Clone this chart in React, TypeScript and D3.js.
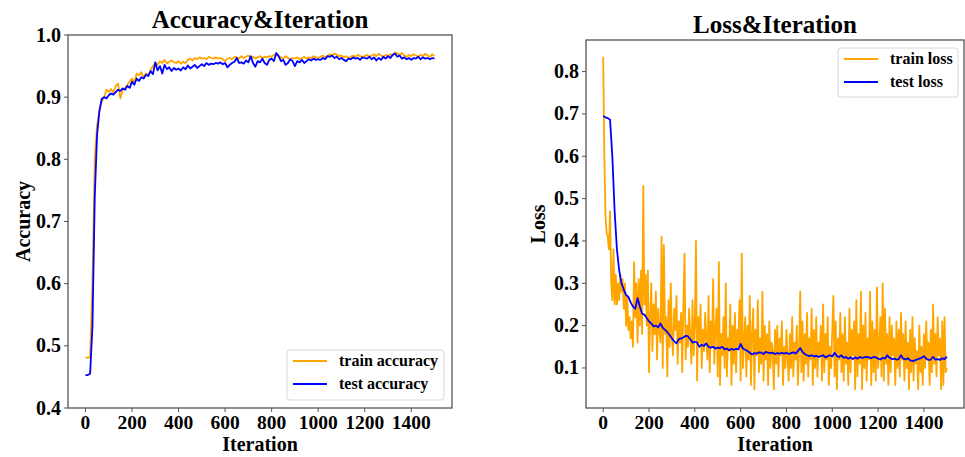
import React from "react";
import * as d3 from "d3";

const accStep = 10;
const testLossStep = 10;
const trainLossStep = 5;
const xTicks = [0, 200, 400, 600, 800, 1000, 1200, 1400];
const accTicks = [0.4, 0.5, 0.6, 0.7, 0.8, 0.9, 1.0];
const lossTicks = [0.1, 0.2, 0.3, 0.4, 0.5, 0.6, 0.7, 0.8];

const trainAcc = [
  0.481, 0.481, 0.482, 0.6, 0.8, 0.855, 0.878, 0.893, 0.9, 0.912,
  0.908, 0.913, 0.907, 0.918, 0.922, 0.898, 0.912, 0.915, 0.92, 0.925,
  0.93, 0.924, 0.938, 0.935, 0.94, 0.932, 0.938, 0.936, 0.944, 0.95,
  0.955, 0.952, 0.958, 0.955, 0.96, 0.954, 0.957, 0.959, 0.956, 0.955,
  0.958, 0.954, 0.957, 0.955, 0.96, 0.962, 0.959, 0.963, 0.961, 0.964,
  0.962, 0.963, 0.961, 0.965, 0.963, 0.962, 0.964, 0.962, 0.963, 0.961,
  0.958, 0.962, 0.963, 0.961, 0.965, 0.964, 0.962, 0.966, 0.963, 0.965,
  0.967, 0.963, 0.965, 0.962, 0.964, 0.966, 0.963, 0.965, 0.964, 0.966,
  0.965, 0.968, 0.969, 0.966, 0.964, 0.962, 0.966, 0.963, 0.96, 0.963,
  0.962, 0.964, 0.961, 0.963, 0.965, 0.962, 0.964, 0.963, 0.966, 0.964,
  0.963, 0.965, 0.967, 0.964, 0.966, 0.969, 0.967, 0.97, 0.968, 0.966,
  0.967, 0.964, 0.966, 0.963, 0.965, 0.967, 0.965, 0.968, 0.966, 0.964,
  0.966, 0.968, 0.965, 0.967, 0.969, 0.966, 0.97, 0.967, 0.965, 0.968,
  0.966, 0.969, 0.967, 0.972, 0.97, 0.968, 0.971, 0.967, 0.965, 0.968,
  0.966, 0.969, 0.967, 0.965, 0.968, 0.966, 0.97, 0.967, 0.965, 0.969,
  0.966,
];

const testAcc = [
  0.453, 0.453, 0.455, 0.53, 0.74, 0.84, 0.878, 0.897, 0.9, 0.898,
  0.903, 0.906, 0.904, 0.908, 0.912, 0.91, 0.914, 0.912, 0.918, 0.915,
  0.925, 0.92, 0.93, 0.926, 0.932, 0.93, 0.936, 0.934, 0.942, 0.937,
  0.956, 0.943, 0.95, 0.938, 0.952, 0.945, 0.948, 0.942, 0.947, 0.944,
  0.946, 0.943, 0.948, 0.945, 0.951, 0.946, 0.949, 0.952, 0.947, 0.95,
  0.953, 0.95, 0.955, 0.952, 0.954, 0.953, 0.955, 0.954, 0.956, 0.953,
  0.955, 0.948, 0.952, 0.955, 0.957, 0.963, 0.955, 0.956, 0.954, 0.959,
  0.956, 0.966, 0.955, 0.949, 0.958, 0.956, 0.962, 0.955, 0.952, 0.96,
  0.962, 0.958, 0.971, 0.966, 0.958, 0.96, 0.952, 0.955, 0.961, 0.958,
  0.95, 0.958, 0.956, 0.96, 0.955, 0.958, 0.961, 0.959, 0.962, 0.96,
  0.961, 0.96, 0.963, 0.961, 0.966, 0.965, 0.967, 0.963, 0.965, 0.961,
  0.963, 0.96, 0.958, 0.962, 0.961, 0.964, 0.962, 0.963, 0.96, 0.964,
  0.963, 0.962, 0.965, 0.961, 0.964, 0.959, 0.963, 0.96, 0.965, 0.962,
  0.966, 0.963, 0.968, 0.97, 0.965, 0.967, 0.962, 0.964, 0.961, 0.963,
  0.96, 0.963, 0.962, 0.965, 0.961, 0.964, 0.962, 0.963, 0.961, 0.963,
  0.962,
];

const trainLoss = [
  0.835,
  0.6, 0.46, 0.42, 0.41, 0.38, 0.47, 0.3, 0.26, 0.38, 0.25,
  0.32, 0.25, 0.3, 0.26, 0.32, 0.28, 0.31, 0.24, 0.3, 0.2,
  0.27, 0.19, 0.22, 0.17, 0.21, 0.15, 0.35, 0.22, 0.3, 0.16,
  0.31, 0.2, 0.33, 0.18, 0.53, 0.25, 0.32, 0.2, 0.33, 0.09,
  0.22, 0.3, 0.14, 0.25, 0.18, 0.28, 0.12, 0.24, 0.19, 0.16,
  0.41, 0.1, 0.39, 0.18, 0.22, 0.08, 0.26, 0.15, 0.3, 0.17,
  0.13, 0.24, 0.19, 0.27, 0.11, 0.21, 0.16, 0.23, 0.09, 0.25,
  0.37, 0.12, 0.2, 0.15, 0.24, 0.18, 0.11, 0.26, 0.13, 0.2,
  0.4, 0.07, 0.22, 0.16, 0.25, 0.1, 0.19, 0.14, 0.23, 0.17,
  0.12, 0.27, 0.09, 0.21, 0.15, 0.31, 0.11, 0.19, 0.24, 0.08,
  0.35, 0.06, 0.18, 0.13, 0.22, 0.1, 0.3, 0.08, 0.17, 0.14,
  0.25, 0.06, 0.2, 0.11, 0.23, 0.09, 0.19, 0.15, 0.26, 0.07,
  0.37, 0.1, 0.16, 0.22, 0.08, 0.2, 0.12, 0.27, 0.06, 0.18,
  0.24, 0.05, 0.19, 0.13, 0.26, 0.09, 0.17, 0.11, 0.28, 0.07,
  0.2, 0.12, 0.18, 0.06, 0.21, 0.1, 0.16, 0.14, 0.05, 0.19,
  0.11, 0.2, 0.08, 0.17, 0.13, 0.21, 0.06, 0.15, 0.1, 0.19,
  0.12, 0.07, 0.18, 0.1, 0.22, 0.08, 0.16, 0.12, 0.2, 0.06,
  0.14, 0.28, 0.09, 0.21, 0.07, 0.18, 0.11, 0.23, 0.08, 0.17,
  0.12, 0.24, 0.06, 0.19, 0.1, 0.22, 0.08, 0.16, 0.13, 0.2,
  0.07, 0.25, 0.09, 0.18, 0.12, 0.22, 0.06, 0.15, 0.1, 0.19,
  0.27, 0.08, 0.21, 0.05, 0.17, 0.12, 0.23, 0.09, 0.18, 0.07,
  0.22, 0.11, 0.16, 0.06, 0.24, 0.09, 0.19, 0.13, 0.21, 0.05,
  0.26, 0.08, 0.18, 0.11, 0.28, 0.05, 0.2, 0.1, 0.23, 0.07,
  0.17, 0.12, 0.28, 0.06, 0.21, 0.09, 0.19, 0.07, 0.29, 0.1,
  0.15, 0.22, 0.08, 0.3, 0.07, 0.24, 0.11, 0.18, 0.06, 0.22,
  0.09, 0.2, 0.13, 0.17, 0.06, 0.21, 0.1, 0.19, 0.08, 0.23,
  0.12, 0.18, 0.07, 0.21, 0.1, 0.16, 0.05, 0.19, 0.09, 0.22,
  0.07, 0.17, 0.11, 0.14, 0.05, 0.2, 0.09, 0.15, 0.06, 0.18,
  0.1, 0.21, 0.12, 0.16, 0.06, 0.19, 0.09, 0.25, 0.11, 0.18,
  0.08, 0.22, 0.13, 0.17, 0.05, 0.21, 0.06, 0.22, 0.09, 0.1,
];

const testLoss = [
  0.695, 0.692, 0.69, 0.686, 0.6, 0.47, 0.38, 0.33, 0.3, 0.285,
  0.272, 0.268, 0.255, 0.245, 0.24, 0.265, 0.245, 0.228, 0.226, 0.218,
  0.21, 0.205, 0.198, 0.2, 0.196, 0.205, 0.195, 0.19, 0.185, 0.178,
  0.17, 0.163, 0.158, 0.168, 0.17, 0.172, 0.176, 0.175, 0.168, 0.16,
  0.162, 0.16, 0.15, 0.155, 0.152, 0.158, 0.15, 0.148, 0.15, 0.146,
  0.148, 0.147, 0.15, 0.144, 0.146, 0.142, 0.145, 0.143, 0.145, 0.144,
  0.157, 0.146, 0.143, 0.14, 0.136, 0.132, 0.135, 0.134, 0.137, 0.136,
  0.133, 0.138, 0.136, 0.135, 0.136, 0.133, 0.135, 0.134, 0.136, 0.134,
  0.136, 0.133, 0.135, 0.137, 0.134, 0.14, 0.147, 0.138, 0.133, 0.13,
  0.128, 0.13, 0.127, 0.129, 0.126, 0.128, 0.13, 0.125, 0.128, 0.13,
  0.127, 0.136, 0.128, 0.126, 0.13, 0.124, 0.126, 0.122, 0.125, 0.121,
  0.125, 0.122, 0.126, 0.124, 0.125, 0.126, 0.125, 0.123, 0.126, 0.125,
  0.122, 0.12, 0.124, 0.122, 0.13, 0.124, 0.121, 0.122, 0.12, 0.121,
  0.13, 0.122, 0.12, 0.123, 0.118, 0.116, 0.118, 0.12, 0.122, 0.124,
  0.128, 0.122, 0.119, 0.12, 0.126, 0.12, 0.121, 0.119, 0.123, 0.121,
  0.127,
];

const FONT = "'Liberation Serif', 'Times New Roman', serif";
const FRAME = "#555";
const ORANGE = "#FFA500";
const BLUE = "#0000FF";

type Series = { name: string; values: number[]; step: number; color: string };

type PanelProps = {
  id: string;
  x0: number; x1: number; y0: number; y1: number;
  yDomain: [number, number];
  yTicks: number[];
  title: string;
  yLabel: string;
  yLabelX: number;
  series: Series[];
  legend: { x: number; y: number; w: number; h: number };
};

function Panel(p: PanelProps) {
  const x = d3.scaleLinear().domain([-75, 1575]).range([p.x0, p.x1]);
  const y = d3.scaleLinear().domain(p.yDomain).range([p.y1, p.y0]);
  const cx = (p.x0 + p.x1) / 2;
  const cy = (p.y0 + p.y1) / 2;
  const fmt = d3.format(".1f");
  return (
    <g>
      <defs>
        <clipPath id={"clip" + p.id}>
          <rect x={p.x0} y={p.y0} width={p.x1 - p.x0} height={p.y1 - p.y0} />
        </clipPath>
      </defs>
      <g clipPath={`url(#clip${p.id})`}>
        {p.series.map((s) => {
          const line = d3
            .line<number>()
            .x((_, i) => x(i * s.step))
            .y((d) => y(d));
          return (
            <path key={s.name} d={line(s.values) || ""} fill="none" stroke={s.color} strokeWidth={1.8} strokeLinejoin="round" />
          );
        })}
      </g>
      <rect x={p.x0} y={p.y0} width={p.x1 - p.x0} height={p.y1 - p.y0} fill="none" stroke={FRAME} strokeWidth={1.3} />
      {xTicks.map((t) => (
        <g key={"x" + t}>
          <line x1={x(t)} x2={x(t)} y1={p.y1} y2={p.y1 + 4} stroke={FRAME} strokeWidth={1} />
          <text x={x(t)} y={p.y1 + 21} textAnchor="middle" fontFamily={FONT} fontWeight="bold" fontSize={19.5} fill="#000">
            {t}
          </text>
        </g>
      ))}
      {p.yTicks.map((t) => (
        <g key={"y" + t}>
          <line x1={p.x0 - 4} x2={p.x0} y1={y(t)} y2={y(t)} stroke={FRAME} strokeWidth={1} />
          <text x={p.x0 - 7} y={y(t) + 6.5} textAnchor="end" fontFamily={FONT} fontWeight="bold" fontSize={20} fill="#000">
            {fmt(t)}
          </text>
        </g>
      ))}
      <text x={cx} y={p.y1 + 43} textAnchor="middle" fontFamily={FONT} fontWeight="bold" fontSize={20}>
        Iteration
      </text>
      <text transform={`translate(${p.yLabelX},${cy}) rotate(-90)`} textAnchor="middle" fontFamily={FONT} fontWeight="bold" fontSize={20}>
        {p.yLabel}
      </text>
      <text x={cx} y={p.y0 - 7} textAnchor="middle" fontFamily={FONT} fontWeight="bold" fontSize={25}>
        {p.title}
      </text>
      <g>
        <rect x={p.legend.x} y={p.legend.y} width={p.legend.w} height={p.legend.h} rx={3} fill="#fff" fillOpacity={0.8} stroke="#d8d8d8" strokeWidth={1} />
        {p.series.map((s, i) => {
          const ly = p.legend.y + 11 + i * 23;
          return (
            <g key={"lg" + s.name}>
              <line x1={p.legend.x + 6} x2={p.legend.x + 40} y1={ly} y2={ly} stroke={s.color} strokeWidth={1.8} />
              <text x={p.legend.x + 52} y={ly + 5} fontFamily={FONT} fontWeight="bold" fontSize={16}>
                {s.name}
              </text>
            </g>
          );
        })}
      </g>
    </g>
  );
}

export default function App() {
  return (
    <svg width={965} height={457} style={{ position: "absolute", left: 0, top: 0, background: "#fff" }}>
      <rect width={965} height={457} fill="#fff" />
      <Panel
        id="acc"
        x0={68} x1={452} y0={35} y1={408}
        yDomain={[0.4, 1.0]}
        yTicks={accTicks}
        title="Accuracy&Iteration"
        yLabel="Accuracy"
        yLabelX={30}
        series={[
          { name: "train accuracy", values: trainAcc, step: accStep, color: ORANGE },
          { name: "test accuracy", values: testAcc, step: accStep, color: BLUE },
        ]}
        legend={{ x: 287, y: 350, w: 157, h: 50 }}
      />
      <Panel
        id="loss"
        x0={586} x1={964} y0={40} y1={408}
        yDomain={[0.0055, 0.8745]}
        yTicks={lossTicks}
        title="Loss&Iteration"
        yLabel="Loss"
        yLabelX={545}
        series={[
          { name: "train loss", values: trainLoss, step: trainLossStep, color: ORANGE },
          { name: "test loss", values: testLoss, step: testLossStep, color: BLUE },
        ]}
        legend={{ x: 838, y: 48, w: 120, h: 49 }}
      />
    </svg>
  );
}
